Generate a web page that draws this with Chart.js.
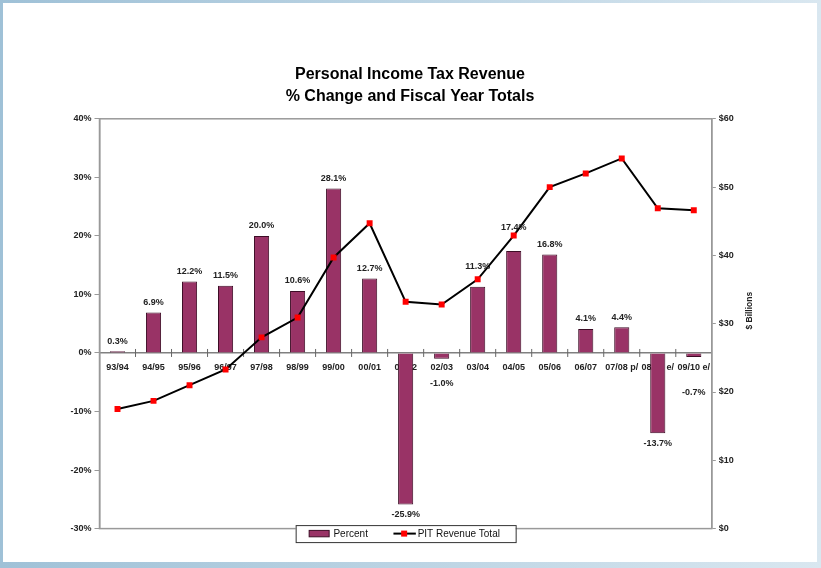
<!DOCTYPE html>
<html>
<head>
<meta charset="utf-8">
<script src="https://cdn.jsdelivr.net/npm/chart.js@4.4.1/dist/chart.umd.min.js"></script>
<style>
html, body { margin: 0; padding: 0; }
body { width: 821px; height: 568px; position: relative; overflow: hidden;
  background: linear-gradient(to right, #9fc1d7, #d9e7f0); }
#wrap { position: absolute; left: 3px; top: 3px; width: 814px; height: 559px; background: #fff; }
</style>
</head>
<body>
<div id="wrap"><canvas id="Plot" width="814" height="559"></canvas></div>
<script>
var years = ['93/94','94/95','95/96','96/97','97/98','98/99','99/00','00/01','01/02','02/03',
  '03/04','04/05','05/06','06/07','07/08 p/','08/09 e/','09/10 e/'];
var pctChange = [0.3, 6.9, 12.2, 11.5, 20.0, 10.6, 28.1, 12.7, -25.9, -1.0,
  11.3, 17.4, 16.8, 4.1, 4.4, -13.7, -0.7];
var pitTotal = [17.5, 18.7, 21.0, 23.3, 28.0, 30.9, 39.7, 44.7, 33.2, 32.8,
  36.5, 42.9, 50.0, 52.0, 54.2, 46.9, 46.6];
var pctTicks = [-30, -20, -10, 0, 10, 20, 30, 40];
var dollarTicks = [0, 10, 20, 30, 40, 50, 60];

var FONT = "'Liberation Sans', Arial, sans-serif";
var BAR = '#993366';
var BAR_EDGE = '#3d0d26';
var AXIS_GREY = '#999';

// extra distance for a few value labels that dodge the line or the x labels
var labelNudge = {9: 15, 10: 10, 11: 14, 16: 25};

var boxPlugin = {
  id: 'plotBox',
  beforeDatasetsDraw: function(chart) {
    var a = chart.chartArea, c = chart.ctx;
    c.save();
    c.strokeStyle = AXIS_GREY;
    c.lineWidth = 1.5;
    c.strokeRect(a.left, a.top, a.right - a.left, a.bottom - a.top);
    // tick marks crossing the zero line, between categories
    var xs = chart.scales.x, y0 = chart.scales.y.getPixelForValue(0);
    var half = (xs.getPixelForValue(1) - xs.getPixelForValue(0)) / 2;
    c.strokeStyle = '#666';
    c.lineWidth = 1;
    c.beginPath();
    for (var i = 1; i < years.length; i++) {
      var x = xs.getPixelForValue(i) - half;
      c.moveTo(x, y0 - 4);
      c.lineTo(x, y0 + 4);
    }
    c.stroke();
    c.restore();
  }
};

var labelPlugin = {
  id: 'barLabels',
  afterDatasetsDraw: function(chart) {
    var c = chart.ctx, meta = chart.getDatasetMeta(0);
    c.save();
    c.font = 'bold 9px ' + FONT;
    c.fillStyle = '#222';
    c.textAlign = 'center';
    c.textBaseline = 'middle';
    meta.data.forEach(function(el, i) {
      var v = pctChange[i], n = labelNudge[i] || 0;
      var y = v >= 0 ? el.y - 10 - n : el.y + 10 + n;
      c.fillText(v.toFixed(1) + '%', el.x, y);
    });
    c.restore();
  }
};

var extrasPlugin = {
  id: 'extras',
  afterDraw: function(chart) {
    var a = chart.chartArea, c = chart.ctx;
    c.save();
    // right axis title, reading bottom to top
    c.translate(a.right + 37.5, (a.top + a.bottom) / 2 - 13);
    c.rotate(-Math.PI / 2);
    c.font = 'bold 8.5px ' + FONT;
    c.fillStyle = '#222';
    c.textAlign = 'center';
    c.textBaseline = 'middle';
    c.fillText('$ Billions', 0, 0);
    c.restore();

    // legend box
    var w = 220, h = 17;
    var bx = (a.left + a.right) / 2 - w / 2, by = a.bottom - 3.5;
    var my = by + h / 2;
    c.save();
    c.fillStyle = '#fff';
    c.fillRect(bx, by, w, h);
    c.strokeStyle = '#333';
    c.lineWidth = 1;
    c.strokeRect(bx + 0.5, by + 0.5, w, h);
    c.fillStyle = BAR;
    c.fillRect(bx + 13.5, my - 3.2, 20, 6.4);
    c.strokeStyle = BAR_EDGE;
    c.strokeRect(bx + 13.5, my - 3.2, 20, 6.4);
    c.font = '10px ' + FONT;
    c.fillStyle = '#111';
    c.textBaseline = 'middle';
    c.fillText(chart.data.datasets[0].label, bx + 37.8, my + 0.5);
    c.strokeStyle = '#000';
    c.lineWidth = 2;
    c.beginPath();
    c.moveTo(bx + 97.8, my);
    c.lineTo(bx + 120.2, my);
    c.stroke();
    c.fillStyle = 'red';
    c.fillRect(bx + 105.5, my - 3, 6, 6);
    c.fillStyle = '#111';
    c.fillText(chart.data.datasets[1].label, bx + 122, my + 0.5);
    c.restore();
  }
};

var tickFont = {family: FONT, size: 9, weight: 'bold'};

var myChart = new Chart(document.getElementById('Plot').getContext('2d'), {
  type: 'bar',
  data: {
    labels: years,
    datasets: [{
      label: 'Percent',
      data: pctChange,
      yAxisID: 'y',
      backgroundColor: BAR,
      borderColor: BAR_EDGE,
      borderWidth: 1,
      barPercentage: 0.42,
      categoryPercentage: 1,
      order: 1
    }, {
      type: 'line',
      label: 'PIT Revenue Total',
      data: pitTotal,
      yAxisID: 'y1',
      borderColor: '#000',
      borderWidth: 2,
      tension: 0,
      pointStyle: 'rect',
      pointRadius: 4.2,
      pointBackgroundColor: 'red',
      pointBorderColor: 'red',
      pointBorderWidth: 0,
      order: 0
    }]
  },
  options: {
    responsive: false,
    animation: false,
    layout: {padding: {left: 0, right: 0, top: 0, bottom: 33.4}},
    plugins: {
      legend: {display: false},
      tooltip: {enabled: false},
      title: {
        display: true,
        text: ['Personal Income Tax Revenue', '% Change and Fiscal Year Totals'],
        color: '#000',
        font: {family: FONT, size: 16, weight: 'bold', lineHeight: 1.375},
        padding: {top: 61, bottom: 10.8}
      }
    },
    scales: {
      x: {
        position: {y: 0},
        grid: {display: false, drawTicks: false},
        border: {display: true, color: '#808080', width: 1.5},
        ticks: {autoSkip: false, maxRotation: 0, minRotation: 0, padding: 9,
          color: '#222', font: tickFont}
      },
      y: {
        position: 'left',
        min: -30, max: 40,
        afterBuildTicks: function(s) { s.ticks = pctTicks.map(function(v) { return {value: v}; }); },
        afterFit: function(s) { s.width = 96.5; },
        grid: {drawOnChartArea: false, drawTicks: true, tickLength: 5, color: AXIS_GREY},
        border: {color: AXIS_GREY, width: 1.5},
        ticks: {padding: 3, color: '#222', font: tickFont,
          callback: function(v) { return v + '%'; }}
      },
      y1: {
        position: 'right',
        min: 0, max: 60,
        afterBuildTicks: function(s) { s.ticks = dollarTicks.map(function(v) { return {value: v}; }); },
        afterFit: function(s) { s.width = 105.2; },
        grid: {drawOnChartArea: false, drawTicks: true, tickLength: 4, color: AXIS_GREY},
        border: {color: AXIS_GREY, width: 1.5},
        ticks: {padding: 3, color: '#222', font: tickFont,
          callback: function(v) { return '$' + v; }}
      }
    }
  },
  plugins: [boxPlugin, labelPlugin, extrasPlugin]
});
</script>
</body>
</html>
